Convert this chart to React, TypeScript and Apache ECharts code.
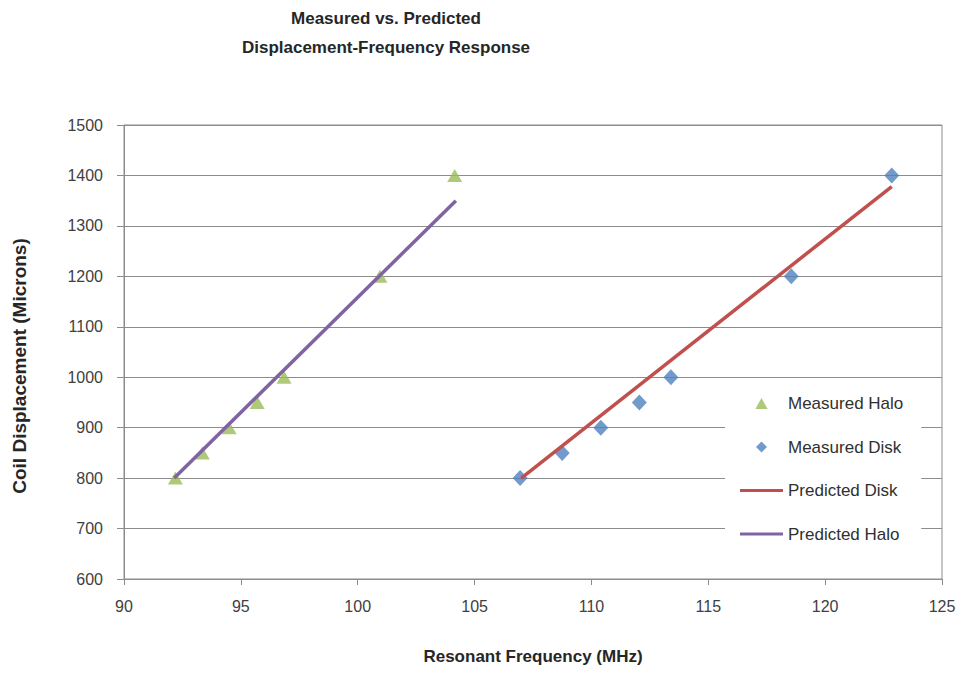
import React, { useEffect, useRef } from "react";
import * as echarts from "echarts";

const titleLines = ["Measured vs. Predicted", "Displacement-Frequency Response"];
const xAxisName = "Resonant Frequency (MHz)";
const yAxisName = "Coil Displacement (Microns)";

const measuredHaloFreq = [92.2, 93.35, 94.5, 95.7, 96.85, 100.95, 104.15];
const measuredHaloDisp = [800, 850, 900, 950, 1000, 1200, 1400];
const measuredDiskFreq = [106.95, 108.75, 110.4, 112.05, 113.4, 118.55, 122.85];
const measuredDiskDisp = [800, 850, 900, 950, 1000, 1200, 1400];
const predictedDiskFreq = [107.0, 122.85];
const predictedDiskDisp = [800, 1378];
const predictedHaloFreq = [92.15, 104.2];
const predictedHaloDisp = [800, 1350];

const seriesNames = ["Measured Halo", "Measured Disk", "Predicted Disk", "Predicted Halo"];

const zip = (xs: number[], ys: number[]) => xs.map((x, i) => [x, ys[i]]);

const FONT = "'Liberation Sans', Arial, sans-serif";
const LINE_ICON = "path://M0,0 L43,0 L43,3 L0,3 Z";

export default function App() {
  const ref = useRef<HTMLDivElement>(null);
  useEffect(() => {
    if (!ref.current) return;
    const chart = echarts.init(ref.current, null, { renderer: "svg" });
    chart.setOption({
      animation: false,
      backgroundColor: "#ffffff",
      textStyle: { fontFamily: FONT },
      title: {
        text: titleLines.join("\n"),
        left: 386,
        textAlign: "center",
        top: 4,
        padding: 0,
        textStyle: { fontSize: 17, fontWeight: "bold", color: "#262626", lineHeight: 29, fontFamily: FONT },
      },
      grid: {
        left: 124,
        right: 21,
        top: 125,
        bottom: 94,
        show: true,
        borderColor: "#8c8c8c",
        borderWidth: 1,
        backgroundColor: "transparent",
      },
      legend: {
        left: 725,
        top: 385,
        orient: "vertical",
        backgroundColor: "#ffffff",
        padding: [10, 18, 12, 15],
        itemWidth: 43,
        itemHeight: 11,
        itemGap: 26.5,
        textStyle: { fontSize: 17, color: "#303030", fontFamily: FONT, lineHeight: 16 },
        data: [
          { name: seriesNames[0], icon: "path://M5,0 L10,9 L0,9 Z" },
          { name: seriesNames[1], icon: "path://M5,0 L10,5 L5,10 L0,5 Z" },
          { name: seriesNames[2], icon: LINE_ICON, itemStyle: { color: "#c0504d" } },
          { name: seriesNames[3], icon: LINE_ICON, itemStyle: { color: "#8064a2" } },
        ],
      },
      xAxis: {
        type: "value",
        min: 90,
        max: 125,
        interval: 5,
        name: xAxisName,
        nameLocation: "middle",
        nameGap: 69,
        nameTextStyle: { fontSize: 17, fontWeight: "bold", color: "#262626", fontFamily: FONT },
        axisLine: { show: true, lineStyle: { color: "#8c8c8c", width: 1 } },
        axisTick: { show: true, inside: false, length: 6, lineStyle: { color: "#8c8c8c" } },
        axisLabel: { fontSize: 16, color: "#404040", margin: 19, fontFamily: FONT },
        splitLine: { show: false },
      },
      yAxis: {
        type: "value",
        min: 600,
        max: 1500,
        interval: 100,
        name: yAxisName,
        nameLocation: "middle",
        nameGap: 95,
        nameRotate: 90,
        nameTextStyle: {
          fontSize: 19,
          fontWeight: "bold",
          color: "#262626",
          fontFamily: FONT,
          padding: [0, 28, 0, 0],
        },
        axisLine: { show: true, lineStyle: { color: "#8c8c8c", width: 1 } },
        axisTick: { show: true, inside: false, length: 7, lineStyle: { color: "#8c8c8c" } },
        axisLabel: {
          fontSize: 16,
          color: "#404040",
          margin: 21,
          fontFamily: FONT,
          formatter: (v: number) => String(v),
        },
        splitLine: { show: true, lineStyle: { color: "#8c8c8c", width: 1 } },
      },
      series: [
        {
          name: seriesNames[0],
          type: "scatter",
          symbol: "triangle",
          symbolSize: [15, 13],
          itemStyle: { color: "#9bbb59" },
          data: zip(measuredHaloFreq, measuredHaloDisp),
          z: 3,
        },
        {
          name: seriesNames[1],
          type: "scatter",
          symbol: "diamond",
          symbolSize: [15, 16],
          itemStyle: { color: "#4f81bd" },
          data: zip(measuredDiskFreq, measuredDiskDisp),
          z: 3,
        },
        {
          name: seriesNames[2],
          type: "line",
          symbol: "none",
          lineStyle: { color: "#c0504d", width: 3.5 },
          itemStyle: { color: "#c0504d" },
          data: zip(predictedDiskFreq, predictedDiskDisp),
          z: 4,
        },
        {
          name: seriesNames[3],
          type: "line",
          symbol: "none",
          lineStyle: { color: "#8064a2", width: 3.5 },
          itemStyle: { color: "#8064a2" },
          data: zip(predictedHaloFreq, predictedHaloDisp),
          z: 4,
        },
      ],
    });
    return () => chart.dispose();
  }, []);
  return <div ref={ref} style={{ width: 963, height: 673, position: "absolute", left: 0, top: 0 }} />;
}
